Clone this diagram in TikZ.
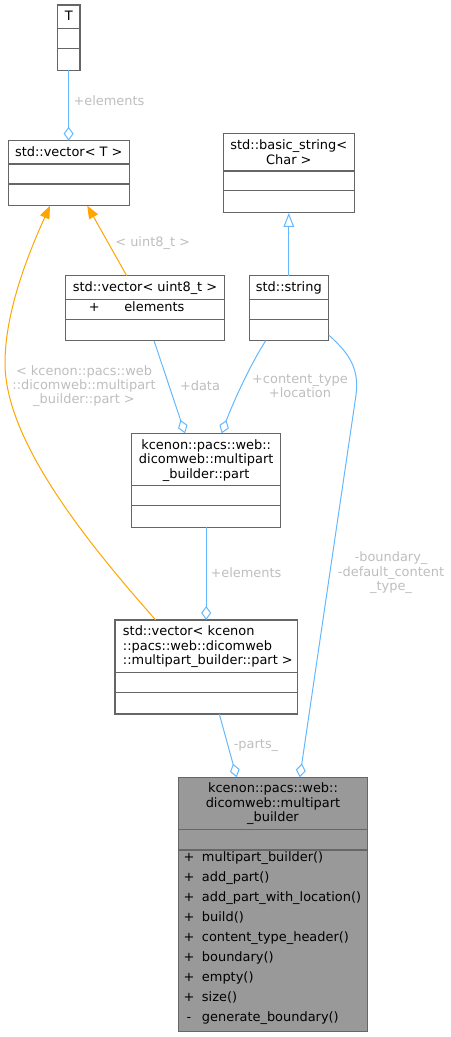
\documentclass[tikz,border=0pt]{standalone}
\usepackage{fontspec}
\setmainfont{DejaVu Sans}
\usetikzlibrary{arrows.meta,calc}
\definecolor{edgeblue}{HTML}{63B8FF}
\definecolor{inhorange}{HTML}{FFA500}
\definecolor{boxline}{HTML}{666666}
\definecolor{labelgray}{HTML}{BEBEBE}
\definecolor{mainfill}{HTML}{999999}
\begin{document}
\begin{tikzpicture}[x=0.75pt,y=-0.75pt,
  box/.style={draw=boxline, line width=0.8pt, inner sep=0pt, outer sep=0pt, anchor=north west},
  sepline/.style={draw=boxline, line width=0.8pt},
  txt/.style={inner sep=0pt, font=\fontsize{9.7}{10.8}\selectfont, text height=7.5pt, text depth=2pt},
  mtxt/.style={inner sep=0pt, font=\fontsize{9.7}{10.8}\selectfont, align=center},
  ltxt/.style={inner sep=0pt, font=\fontsize{9.7}{10.8}\selectfont, align=left},
  elabel/.style={inner sep=0pt, font=\fontsize{9.7}{10.8}\selectfont, align=center, text=labelgray},
  agg/.style={draw=edgeblue, line width=0.75pt, -{Diamond[open, length=10.5pt, width=7.5pt]}},
  tmpl/.style={draw=inhorange, line width=0.75pt, -{Triangle[length=9.6pt, width=7.5pt]}},
  inh/.style={draw=edgeblue, line width=0.75pt, -{Triangle[open, length=10.5pt, width=8pt, fill=white]}}
]
\useasboundingbox (0,0) rectangle (450,1037);

% ---- boxes ----
\node[box, minimum width=17pt, minimum height=49pt] (T) at (57.3,5) {};
\node[box, minimum width=90.75pt, minimum height=48.75pt] (vT) at (8.3,140.7) {};
\node[box, minimum width=98.25pt, minimum height=59.75pt] (bs) at (223.3,133.3) {};
\node[box, minimum width=59.25pt, minimum height=48.75pt] (str) at (249.3,275.7) {};
\node[box, minimum width=118.95pt, minimum height=48.75pt] (vu) at (65.7,275.7) {};
\node[box, minimum width=111.75pt, minimum height=70.5pt] (part) at (131.7,433.3) {};
\node[box, minimum width=136.7pt, minimum height=70.5pt] (vp) at (115,620) {};
\node[box, fill=mainfill, minimum width=142pt, minimum height=190.8pt] (mb) at (178.3,777.3) {};

% ---- separators ----
\foreach \n/\a/\b in {T/28.7/48.7, vT/164/184, bs/171/190.7, str/299.3/319.3,
                      vu/299.3/319.3, part/485.7/505.7, vp/672.3/692.3, mb/829.3/850}{
  \draw[sepline] (\n.west |- 0,\a) -- (\n.east |- 0,\a);
  \draw[sepline] (\n.west |- 0,\b) -- (\n.east |- 0,\b);
}

% ---- titles ----
\node[txt] (tT) at (68.7,16.8) {T};
\node[txt] (tvT) at (68.8,153.3) {std::vector< T >};
\node[mtxt] (tbs) at (288.8,152.2) {std::basic\_string<\\Char >};
\node[txt] (tstr) at (288.8,288.3) {std::string};
\node[txt] (tvu) at (145,288.3) {std::vector< uint8\_t >};
\node[txt] (tvup) at (94.3,308.3) {+};
\node[txt, anchor=west] (tvue) at (124,308.3) {elements};
\node[mtxt] (tpart) at (206.2,460.6) {kcenon::pacs::web::\\dicomweb::multipart\\\_builder::part};
\node[ltxt, anchor=west] (tvp) at (122.7,646.8) {std::vector< kcenon\\::pacs::web::dicomweb\\::multipart\_builder::part >};
\node[mtxt] (tmb) at (273,803.8) {kcenon::pacs::web::\\dicomweb::multipart\\\_builder};

% ---- members of multipart_builder ----
\foreach \i/\v/\s in {0/+/multipart\_builder(), 1/+/add\_part(), 2/+/add\_part\_with\_location(),
                      3/+/build(), 4/+/content\_type\_header(), 5/+/boundary(),
                      6/+/empty(), 7/+/size(), 8/-/generate\_boundary()}{
  \node[txt] (mv\i) at (189,858.3+20*\i) {\v};
  \node[txt, anchor=west] (mm\i) at (201.7,858.3+20*\i) {\s};
}

% ---- connectors ----
\draw[agg] (T.south) -- (T.south |- vT.north);
\draw[tmpl] ($(vu.north west)+(61,0)$) -- ($(vT.south west)+(79,0)$);
\draw[tmpl] ($(vp.north west)+(40.7,0)$) .. controls (85,540) and (5,440) .. (5,363)
            .. controls (5,310) and (30,250) .. ($(vT.south west)+(41.7,0)$);
\draw[inh] (str.north) -- (str.north |- bs.south);
\draw[agg] ($(vu.south west)+(88.3,0)$) -- ($(part.north west)+(53.3,0)$);
\draw[agg] ($(str.south west)+(16.4,0)$) .. controls (250,365) and (232,405) .. ($(part.north west)+(90,0)$);
\draw[agg] (part.south) -- (part.south |- vp.north);
\draw[agg] ($(vp.south west)+(104.3,0)$) -- ($(mb.north west)+(58.4,0)$);
\draw[agg] ($(str.south east)+(0.4,-5.7)$) .. controls (345,350) and (360,365) .. (356,395)
            -- ($(mb.north west)+(121.5,0)$);

% ---- connector labels ----
\node[elabel] (l1) at (109,100.7) {+elements};
\node[elabel] (l2) at (152.7,243.3) {< uint8\_t >};
\node[elabel] (l3) at (84,386.2) {< kcenon::pacs::web\\::dicomweb::multipart\\\_builder::part >};
\node[elabel] (l4) at (200,386) {+data};
\node[elabel] (l5) at (300,386) {+content\_type\\+location};
\node[elabel] (l6) at (246,572.3) {+elements};
\node[elabel] (l7) at (256,745) {-parts\_};
\node[elabel] (l8) at (391,573) {-boundary\_\\-default\_content\\\_type\_};
\end{tikzpicture}
\end{document}
